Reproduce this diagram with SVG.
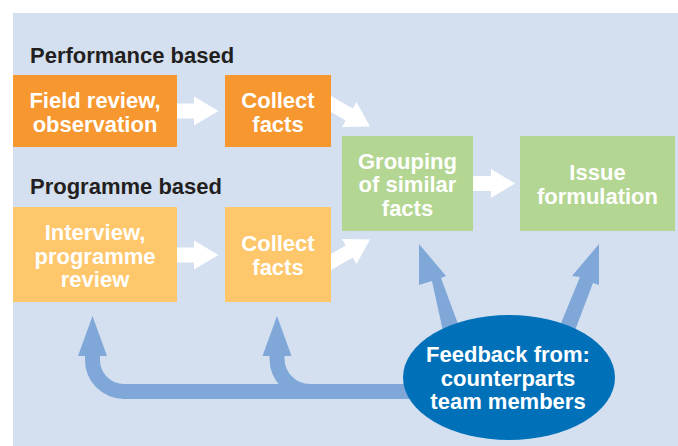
<svg xmlns="http://www.w3.org/2000/svg" width="678" height="446" viewBox="0 0 678 446">
<style>
text{font-family:"Liberation Sans",Arial,sans-serif;font-weight:bold;font-size:22px}
.w{fill:#ffffff;text-anchor:middle}
.h{fill:#231f20}
.or{fill:#f7972f}
.lo{fill:#fec76c}
.gr{fill:#b3d692}
.wa{fill:#ffffff}
.ba{fill:#7fa8d9}
.bs{fill:none;stroke:#7fa8d9;stroke-width:15}
</style>
<rect x="0" y="0" width="678" height="446" fill="#ffffff"/>
<rect x="13" y="13" width="665" height="433" fill="#d4dff0"/>
<text class="h" x="30" y="63">Performance based</text>
<text class="h" x="30" y="194">Programme based</text>
<g id="connectors">
<polygon class="wa" points="170,103.5 194,103.5 194,96.5 218.5,111 194,125.5 194,118.5 170,118.5"/>
<polygon class="wa" points="170,247.5 194,247.5 194,240.5 218.5,255 194,269.5 194,262.5 170,262.5"/>
<polygon class="wa" points="468,176 491,176 491,169 515,183.5 491,198 491,191 468,191"/>
<polygon class="wa" points="330.2,95.4 352.7,108.4 356.5,101.9 370,126.5 341.9,127.1 345.7,120.6 323.2,107.6"/>
<polygon class="wa" points="323.2,258.4 345.7,245.4 341.9,238.9 370,239.5 356.5,264.1 352.7,257.6 330.2,270.6"/>
<polygon class="ba" points="419,244 446,276 441,278 461,332 444,336 432,281 419,285"/>
<polygon class="ba" points="599,244 599,285 593,283 574,333 559,328 580,277 572,276"/>
<path class="bs" d="M425 391.5 H124 A31.5 31.5 0 0 1 92.5 360 V354"/>
<path class="bs" d="M310 391.5 A33 33 0 0 1 277 358.5 V354"/>
<polygon class="ba" points="78,356 107,356 92.5,316"/>
<polygon class="ba" points="262.5,356 291.5,356 277,316"/>
</g>
<g id="field-review">
<rect class="or" x="13" y="75" width="164" height="72"/>
<text class="w" x="95" y="108">Field review,</text>
<text class="w" x="95" y="131.5">observation</text>
</g>
<g id="collect-facts-1">
<rect class="or" x="225" y="75" width="106" height="72"/>
<text class="w" x="278" y="108">Collect</text>
<text class="w" x="278" y="131.5">facts</text>
</g>
<g id="interview">
<rect class="lo" x="13" y="207" width="164" height="95"/>
<text class="w" x="95" y="240">Interview,</text>
<text class="w" x="95" y="263.5">programme</text>
<text class="w" x="95" y="287">review</text>
</g>
<g id="collect-facts-2">
<rect class="lo" x="225" y="207" width="106" height="95"/>
<text class="w" x="278" y="251">Collect</text>
<text class="w" x="278" y="274.5">facts</text>
</g>
<g id="grouping">
<rect class="gr" x="342" y="136" width="131" height="95"/>
<text class="w" x="407.5" y="168.5">Grouping</text>
<text class="w" x="407.5" y="192">of similar</text>
<text class="w" x="407.5" y="215.5">facts</text>
</g>
<g id="issue">
<rect class="gr" x="520" y="136" width="155" height="95"/>
<text class="w" x="597.5" y="180">Issue</text>
<text class="w" x="597.5" y="203.5">formulation</text>
</g>
<g id="feedback">
<ellipse cx="509" cy="377.5" rx="106" ry="62.5" fill="#0071b9"/>
<text class="w" x="508" y="362">Feedback from:</text>
<text class="w" x="508" y="385.5">counterparts</text>
<text class="w" x="508" y="409">team members</text>
</g>
</svg>
